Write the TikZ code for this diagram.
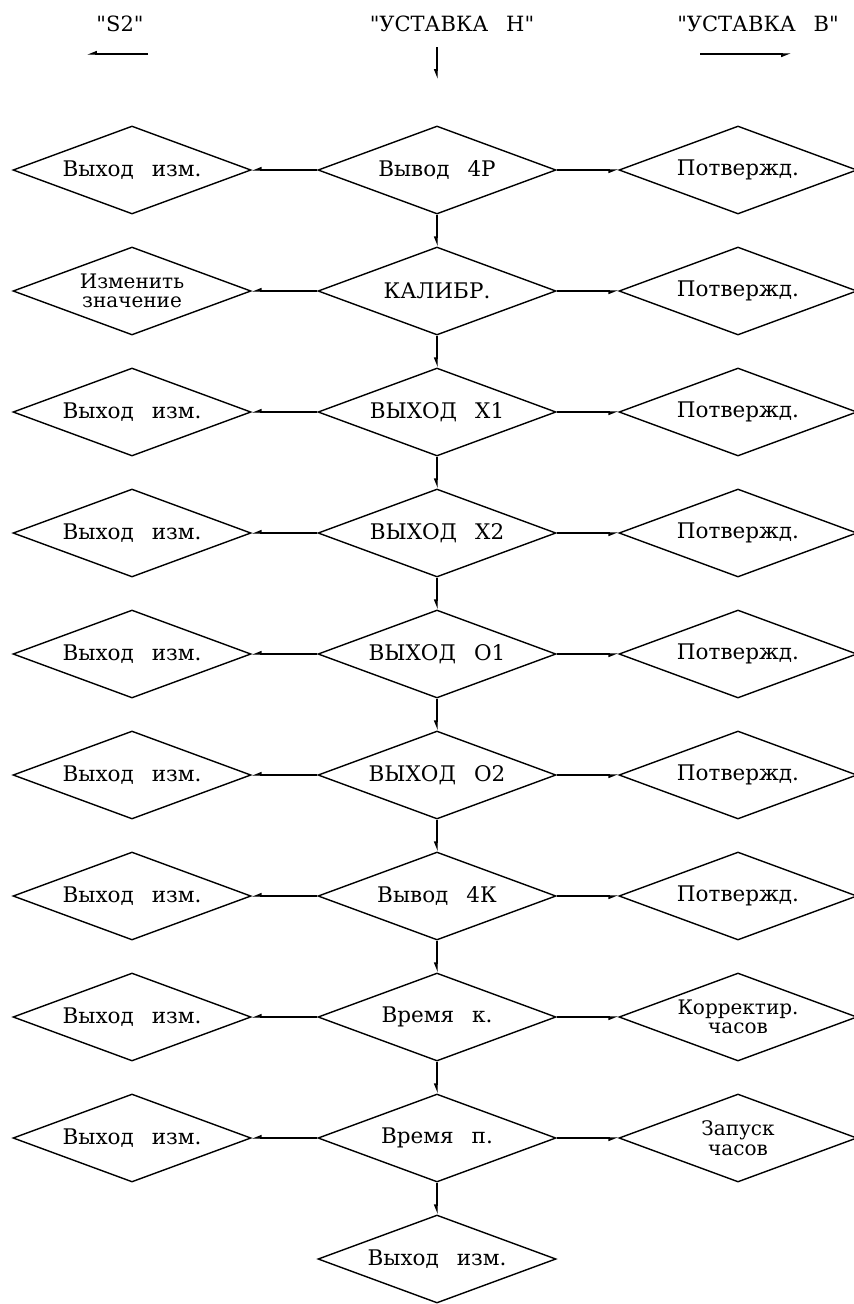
\documentclass[tikz,border=0pt]{standalone}
\usepackage{fontspec}
\newfontfamily\dfont{DejaVu Serif}
\usetikzlibrary{shapes.geometric,arrows.meta}
\newcommand{\gp}{\hspace{18pt}}
\newcommand{\twol}{\fontsize{20}{19.5}\selectfont}
\tikzset{
  dia/.style={diamond, draw, line width=1.4pt, minimum width=238pt, minimum height=88pt,
    inner sep=0pt, aspect=2.7, align=center, font=\dfont\fontsize{21.5}{19.5}\selectfont},
  lbl/.style={font=\dfont\fontsize{21}{22}\selectfont, inner sep=0pt},
  arr/.style={line width=1.4pt, -{Triangle[length=8pt,width=6pt,harpoon,swap]}},
}
\begin{document}
\begin{tikzpicture}[x=1pt,y=-1pt]
\useasboundingbox (0,0) rectangle (854,1304);
% header
\node[lbl] (hs) at (120,24) {"S2"};
\node[lbl] (hn) at (452,24) {"УСТАВКА\gp Н"};
\node[lbl] (hb) at (758,24) {"УСТАВКА\gp В"};
\coordinate (s2a) at (148,54); \coordinate (s2b) at (87,54);
\coordinate (hna) at (437,47); \coordinate (hnb) at (437,79);
\coordinate (hba) at (700,54); \coordinate (hbb) at (791,54);
\draw[arr] (s2a) -- (s2b);
\draw[arr] (hna) -- (hnb);
\draw[arr] (hba) -- (hbb);
% rows
\foreach \i/\l/\c/\r in {
 1/{Выход\gp изм.}/{Вывод\gp 4Р}/{Потвержд.},
 2/{\twol Изменить\\\twol значение}/{КАЛИБР.}/{Потвержд.},
 3/{Выход\gp изм.}/{ВЫХОД\gp Х1}/{Потвержд.},
 4/{Выход\gp изм.}/{ВЫХОД\gp Х2}/{Потвержд.},
 5/{Выход\gp изм.}/{ВЫХОД\gp О1}/{Потвержд.},
 6/{Выход\gp изм.}/{ВЫХОД\gp О2}/{Потвержд.},
 7/{Выход\gp изм.}/{Вывод\gp 4К}/{Потвержд.},
 8/{Выход\gp изм.}/{Время\gp к.}/{\twol Корректир.\\\twol часов},
 9/{Выход\gp изм.}/{Время\gp п.}/{\twol Запуск\\\twol часов}}{
  \pgfmathsetmacro{\yy}{170+121*(\i-1)}
  \node[dia] (l\i) at (132,\yy) {\l};
  \node[dia] (c\i) at (437,\yy) {\c};
  \node[dia] (r\i) at (738,\yy) {\r};
  \draw[arr] (c\i.west) -- (l\i.east);
  \draw[arr] (c\i.east) -- (r\i.west);
}
\node[dia] (c10) at (437,1259) {Выход\gp изм.};
\foreach \i [evaluate=\i as \j using int(\i+1)] in {1,...,9}{
  \draw[arr] (c\i.south) -- (c\j.north);
}
\end{tikzpicture}
\end{document}
